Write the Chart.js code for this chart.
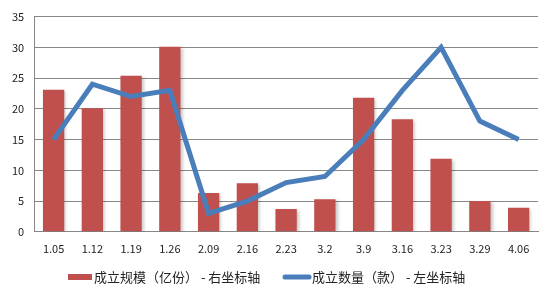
<!DOCTYPE html>
<html>
<head>
<meta charset="utf-8">
<script src="https://cdn.jsdelivr.net/npm/chart.js@4/dist/chart.umd.min.js"></script>
<style>
  html, body { margin: 0; padding: 0; background: #fff; }
  #wrap { width: 548px; height: 295px; }
</style>
</head>
<body>
<div id="wrap"><canvas id="myChart" width="548" height="295"></canvas></div>
<script>
const categories = ['1.05', '1.12', '1.19', '1.26', '2.09', '2.16', '2.23', '3.2', '3.9', '3.16', '3.23', '3.29', '4.06'];
const scaleValues = [23.1, 20.1, 25.4, 30.1, 6.3, 7.9, 3.7, 5.3, 21.8, 18.3, 11.9, 5.0, 3.9]; // 成立规模（亿份）
const countValues = [15, 24, 22, 23, 3, 5, 8, 9, 15, 23, 30, 18, 15]; // 成立数量（款）
const yTicks = [0, 5, 10, 15, 20, 25, 30, 35];
const seriesNames = ['成立规模（亿份） - 右坐标轴', '成立数量（款） - 左坐标轴'];

const FONT = '"Noto Sans CJK SC", "DejaVu Sans", sans-serif';
const RED = '#c0504d';
const BLUE = '#4a7ebb';

// soft shadow behind the bars, like the original spreadsheet chart
const barShadow = {
    id: 'barShadow',
    beforeDatasetDraw(chart, args) {
        if (args.index !== 1) return;
        const ctx = chart.ctx;
        ctx.save();
        ctx.shadowColor = 'rgba(0,0,0,0.22)';
        ctx.shadowBlur = 3;
        ctx.shadowOffsetX = 2;
        ctx.shadowOffsetY = 1;
    },
    afterDatasetDraw(chart, args) {
        if (args.index !== 1) return;
        chart.ctx.restore();
    }
};

// legend drawn by hand so the spacing matches the excel one
const bottomLegend = {
    id: 'bottomLegend',
    afterDraw(chart) {
        const ctx = chart.ctx;
        const y = 277;
        ctx.save();
        ctx.font = '13px ' + FONT;
        ctx.textBaseline = 'middle';
        ctx.textAlign = 'left';

        ctx.fillStyle = RED;
        ctx.fillRect(68, y - 3, 24, 6);
        ctx.fillStyle = '#222';
        ctx.fillText(seriesNames[0], 94, y);

        ctx.strokeStyle = BLUE;
        ctx.lineWidth = 5;
        ctx.lineCap = 'round';
        ctx.beginPath();
        ctx.moveTo(285, y);
        ctx.lineTo(309, y);
        ctx.stroke();
        ctx.fillText(seriesNames[1], 312, y);
        ctx.restore();
    }
};

new Chart(document.getElementById('myChart').getContext('2d'), {
    data: {
        labels: categories,
        datasets: [{
            type: 'line',
            label: seriesNames[1],
            data: countValues,
            borderColor: BLUE,
            backgroundColor: BLUE,
            borderWidth: 5,
            pointRadius: 0,
            tension: 0,
            order: 0
        }, {
            type: 'bar',
            label: seriesNames[0],
            data: scaleValues,
            backgroundColor: RED,
            borderWidth: 0,
            categoryPercentage: 1,
            barPercentage: 0.55,
            order: 1
        }]
    },
    options: {
        responsive: false,
        animation: false,
        layout: { padding: { left: 2, right: 10, top: 4, bottom: 30 } },
        plugins: {
            tooltip: { enabled: false },
            legend: { display: false }
        },
        scales: {
            x: {
                grid: { display: false, drawTicks: false },
                border: { color: '#888' },
                ticks: { font: { family: FONT, size: 11 }, color: '#222', padding: 10, maxRotation: 0 }
            },
            y: {
                min: 0,
                max: 35,
                afterBuildTicks(axis) { axis.ticks = yTicks.map(v => ({ value: v })); },
                grid: { color: '#888', drawTicks: false },
                border: { color: '#888' },
                ticks: { font: { family: FONT, size: 11 }, color: '#222', padding: 10 }
            }
        }
    },
    plugins: [barShadow, bottomLegend]
});
</script>
</body>
</html>
